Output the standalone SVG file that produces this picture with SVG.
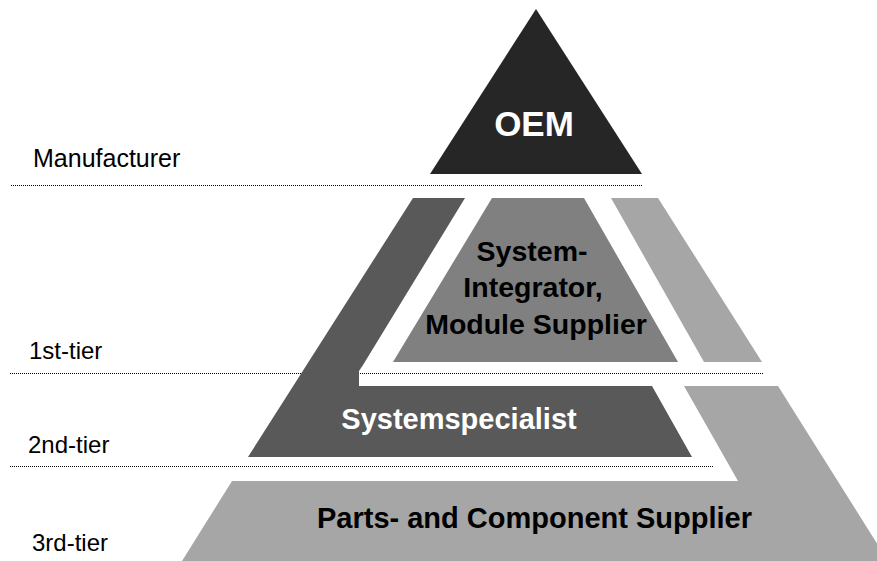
<svg xmlns="http://www.w3.org/2000/svg" width="877" height="561" viewBox="0 0 877 561">
  <style>
    .lbl { font-family: "Liberation Sans", Arial, sans-serif; font-size: 24px; fill: #000; }
    .bold { font-family: "Liberation Sans", Arial, sans-serif; font-weight: bold; text-anchor: middle; }
    .sep { stroke: #000; stroke-width: 1; stroke-dasharray: 1 1; fill: none; }
    .oem { fill: #262626; }
    .mid { fill: #808080; }
    .dark { fill: #595959; }
    .light { fill: #a6a6a6; }
  </style>
  <rect width="877" height="561" fill="#fff"/>
  <g id="tier-lines">
    <line class="sep" x1="11" y1="185.5" x2="643" y2="185.5"/>
    <line class="sep" x1="10" y1="373.5" x2="764" y2="373.5"/>
    <line class="sep" x1="10" y1="466.5" x2="714" y2="466.5"/>
  </g>
  <g id="oem">
    <polygon class="oem" points="536,9 642,174 430,174"/>
    <text class="bold" x="534" y="136" font-size="35" fill="#fff">OEM</text>
  </g>
  <g id="system-integrator">
    <polygon class="mid" points="492,198 584,198 678,362 393,362"/>
    <polygon class="light" points="611,198 658,198 762,362 704,362"/>
    <text class="bold" font-size="28.5" fill="#000">
      <tspan x="536" y="261">System-</tspan>
      <tspan x="537" y="297">Integrator,</tspan>
      <tspan x="536" y="334">Module Supplier</tspan>
    </text>
  </g>
  <g id="systemspecialist">
    <polygon class="dark" points="413,198 465,198 363,365 359,371 359,386 652,386 692,457 248,457"/>
    <text class="bold" x="459" y="429" font-size="29" fill="#fff">Systemspecialist</text>
  </g>
  <g id="parts-supplier">
    <polygon class="light" points="232,481 738,481 684,386 778,386 888,561 182,561"/>
    <text class="bold" x="534.5" y="528" font-size="29" fill="#000">Parts- and Component Supplier</text>
  </g>
  <g id="tier-labels">
    <text class="lbl" x="33" y="167" font-size="25" style="font-size:25px">Manufacturer</text>
    <text class="lbl" x="29" y="359">1st-tier</text>
    <text class="lbl" x="28" y="453">2nd-tier</text>
    <text class="lbl" x="32" y="551">3rd-tier</text>
  </g>
</svg>
